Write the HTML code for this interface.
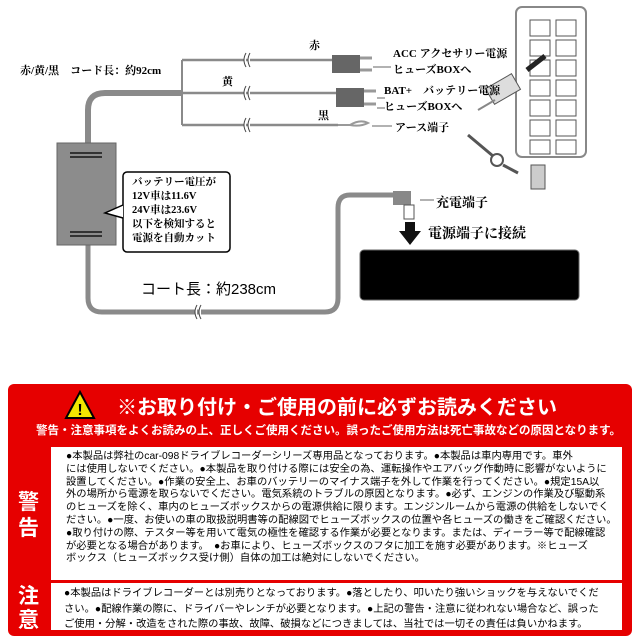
<!DOCTYPE html>
<html><head><meta charset="utf-8"><style>
body{margin:0;width:640px;height:640px;background:#fff;position:relative;overflow:hidden;font-family:"Liberation Sans","Noto Sans CJK JP",sans-serif}
.t{position:absolute;white-space:nowrap;color:#000}
.s{font-family:"Liberation Serif","Noto Serif CJK SC",serif;font-weight:bold;font-size:11px}
</style></head><body>
<svg width="640" height="380" style="position:absolute;left:0;top:0">
<g fill="none" stroke="#8a8a8a">
<path d="M88 143 V110 Q88 93 105 93 H182" stroke-width="6"/>
<path d="M182 60 V125" stroke-width="2"/>
<path d="M182 60 H332 M182 93 H336 M182 125 H338" stroke-width="2.5"/>
<path d="M88 245 V298 Q88 312 102 312 H325 Q338 312 338 298 V208 Q338 195 350 195 H393" stroke-width="5"/>
</g>
<g stroke="#444" fill="#fff" stroke-width="1"><path d="M246 53 q-4 7 0 14 M250 53 q-4 7 0 14 M246 86 q-4 7 0 14 M250 86 q-4 7 0 14 M246 118 q-4 7 0 14 M250 118 q-4 7 0 14 M197 305 q-4 7 0 14 M201 305 q-4 7 0 14"/></g>
<rect x="57" y="143" width="59" height="102" fill="#8c8c8c" stroke="#666"/>
<g fill="#333"><rect x="70" y="152" width="32" height="2"/><rect x="70" y="156" width="32" height="2"/><rect x="70" y="231" width="32" height="2"/><rect x="70" y="235" width="32" height="2"/></g>
<g fill="#666"><rect x="332" y="55" width="28" height="18"/><rect x="336" y="88" width="28" height="19"/></g>
<path d="M360 58 h12 M360 70 h12 M364 91 h12 M364 104 h12" stroke="#999" stroke-width="3"/>
<path d="M338 125 h12 q10 -6 18 -2 q-8 4 -18 2" stroke="#999" stroke-width="2" fill="none"/>
<path d="M373 67 h18 M377 98 h8 M377 108 h8 M372 126 h20 M420 200 h14" stroke="#666"/>
<rect x="516" y="7" width="70" height="150" rx="6" fill="#fff" stroke="#888" stroke-width="2"/>
<g fill="#fff" stroke="#555">
<rect x="530" y="20" width="20" height="16"/><rect x="556" y="20" width="20" height="16"/>
<rect x="530" y="40" width="20" height="16"/><rect x="556" y="40" width="20" height="16"/>
<rect x="530" y="60" width="20" height="16"/><rect x="556" y="60" width="20" height="16"/>
<rect x="530" y="80" width="20" height="16"/><rect x="556" y="80" width="20" height="16"/>
<rect x="530" y="100" width="20" height="16"/><rect x="556" y="100" width="20" height="16"/>
<rect x="530" y="120" width="20" height="16"/><rect x="556" y="120" width="20" height="16"/>
<rect x="530" y="140" width="20" height="14"/><rect x="556" y="140" width="20" height="14"/>
</g>
<path d="M527 70 L545 56" stroke="#222" stroke-width="5"/>
<rect x="488" y="80" width="30" height="18" fill="#ddd" stroke="#555" transform="rotate(-30 503 89)"/>
<path d="M478 110 L495 100" stroke="#888" stroke-width="2"/>
<circle cx="497" cy="160" r="6" fill="none" stroke="#555" stroke-width="2"/>
<path d="M468 135 L493 156 M503 165 L518 173" stroke="#555" stroke-width="3"/>
<rect x="531" y="165" width="14" height="24" fill="#ccc" stroke="#555"/>
<rect x="393" y="191" width="18" height="14" fill="#888"/><rect x="404" y="205" width="10" height="14" fill="#fff" stroke="#555"/>
<path d="M405 222 h10 v9 h6 l-11 14 l-11 -14 h6z" fill="#111"/>
<rect x="360" y="250" width="219" height="50" rx="4" fill="#000" stroke="#666"/>
<rect x="123" y="172" width="107" height="80" rx="4" fill="#fff" stroke="#000" stroke-width="1.5"/>
<path d="M123 205 L105 213 L123 218" fill="#fff" stroke="#000" stroke-width="1.5"/>
</svg>
<div class="t s" style="left:20px;top:62px">赤/黄/黒　コード長：約92cm</div>
<div class="t s" style="left:309px;top:37px">赤</div>
<div class="t s" style="left:222px;top:73px">黄</div>
<div class="t s" style="left:318px;top:107px">黒</div>
<div class="t s" style="left:393px;top:46px;line-height:16px">ACC アクセサリー電源<br>ヒューズBOXへ</div>
<div class="t s" style="left:384px;top:83px;line-height:16px">BAT+　バッテリー電源<br>ヒューズBOXへ</div>
<div class="t s" style="left:395px;top:119px">アース端子</div>
<div class="t s" style="left:132px;top:176px;font-size:10.5px;line-height:14px">バッテリー電圧が<br>12V車は11.6V<br>24V車は23.6V<br>以下を検知すると<br>電源を自動カット</div>
<div class="t s" style="left:436px;top:192px;font-size:13px">充電端子</div>
<div class="t s" style="left:428px;top:223px;font-size:14px">電源端子に接続</div>
<div class="t" style="left:141px;top:278px;font-size:15px">コート長：約238cm</div>
<div style="position:absolute;left:8px;top:384px;width:624px;height:252px;background:#e60000;border-radius:6px"></div>
<svg width="32" height="30" style="position:absolute;left:64px;top:390px"><path d="M16 2 L30 28 H2 Z" fill="#f2e600" stroke="#000" stroke-width="2"/><text x="16" y="25" text-anchor="middle" font-size="16" font-weight="bold" font-family="Liberation Sans">!</text></svg>
<div class="t" style="left:117px;top:391px;color:#fff;font-size:20px;font-weight:bold">※お取り付け・ご使用の前に必ずお読みください</div>
<div class="t" style="left:36px;top:422px;color:#fff;font-size:11.5px;font-weight:bold">警告・注意事項をよくお読みの上、正しくご使用ください。誤ったご使用方法は死亡事故などの原因となります。</div>
<div style="position:absolute;left:51px;top:447px;width:571px;height:183px;background:#fff"></div>
<div style="position:absolute;left:8px;top:580px;width:624px;height:3px;background:#e60000"></div>
<div class="t" style="left:18px;top:490px;color:#fff;font-size:21px;font-weight:bold;line-height:26px">警<br>告</div>
<div class="t" style="left:18px;top:585px;color:#fff;font-size:21px;font-weight:bold;line-height:24px">注<br>意</div>
<div class="t" style="left:66px;top:451px;font-size:10.3px;line-height:12.8px">●本製品は弊社のcar-098ドライブレコーダーシリーズ専用品となっております。●本製品は車内専用です。車外<br>には使用しないでください。●本製品を取り付ける際には安全の為、運転操作やエアバッグ作動時に影響がないように<br>設置してください。●作業の安全上、お車のバッテリーのマイナス端子を外して作業を行ってください。●規定15A以<br>外の場所から電源を取らないでください。電気系統のトラブルの原因となります。●必ず、エンジンの作業及び駆動系<br>のヒューズを除く、車内のヒューズボックスからの電源供給に限ります。エンジンルームから電源の供給をしないでく<br>ださい。●一度、お使いの車の取扱説明書等の配線図でヒューズボックスの位置や各ヒューズの働きをご確認ください。<br>●取り付けの際、テスター等を用いて電気の極性を確認する作業が必要となります。または、ディーラー等で配線確認<br>が必要となる場合があります。　●お車により、ヒューズボックスのフタに加工を施す必要があります。※ヒューズ<br>ボックス（ヒューズボックス受け側）自体の加工は絶対にしないでください。</div>
<div class="t" style="left:64px;top:586px;font-size:10.3px;line-height:15.5px">●本製品はドライブレコーダーとは別売りとなっております。●落としたり、叩いたり強いショックを与えないでくだ<br>さい。●配線作業の際に、ドライバーやレンチが必要となります。●上記の警告・注意に従われない場合など、誤った<br>ご使用・分解・改造をされた際の事故、故障、破損などにつきましては、当社では一切その責任は負いかねます。</div>
</body></html>
